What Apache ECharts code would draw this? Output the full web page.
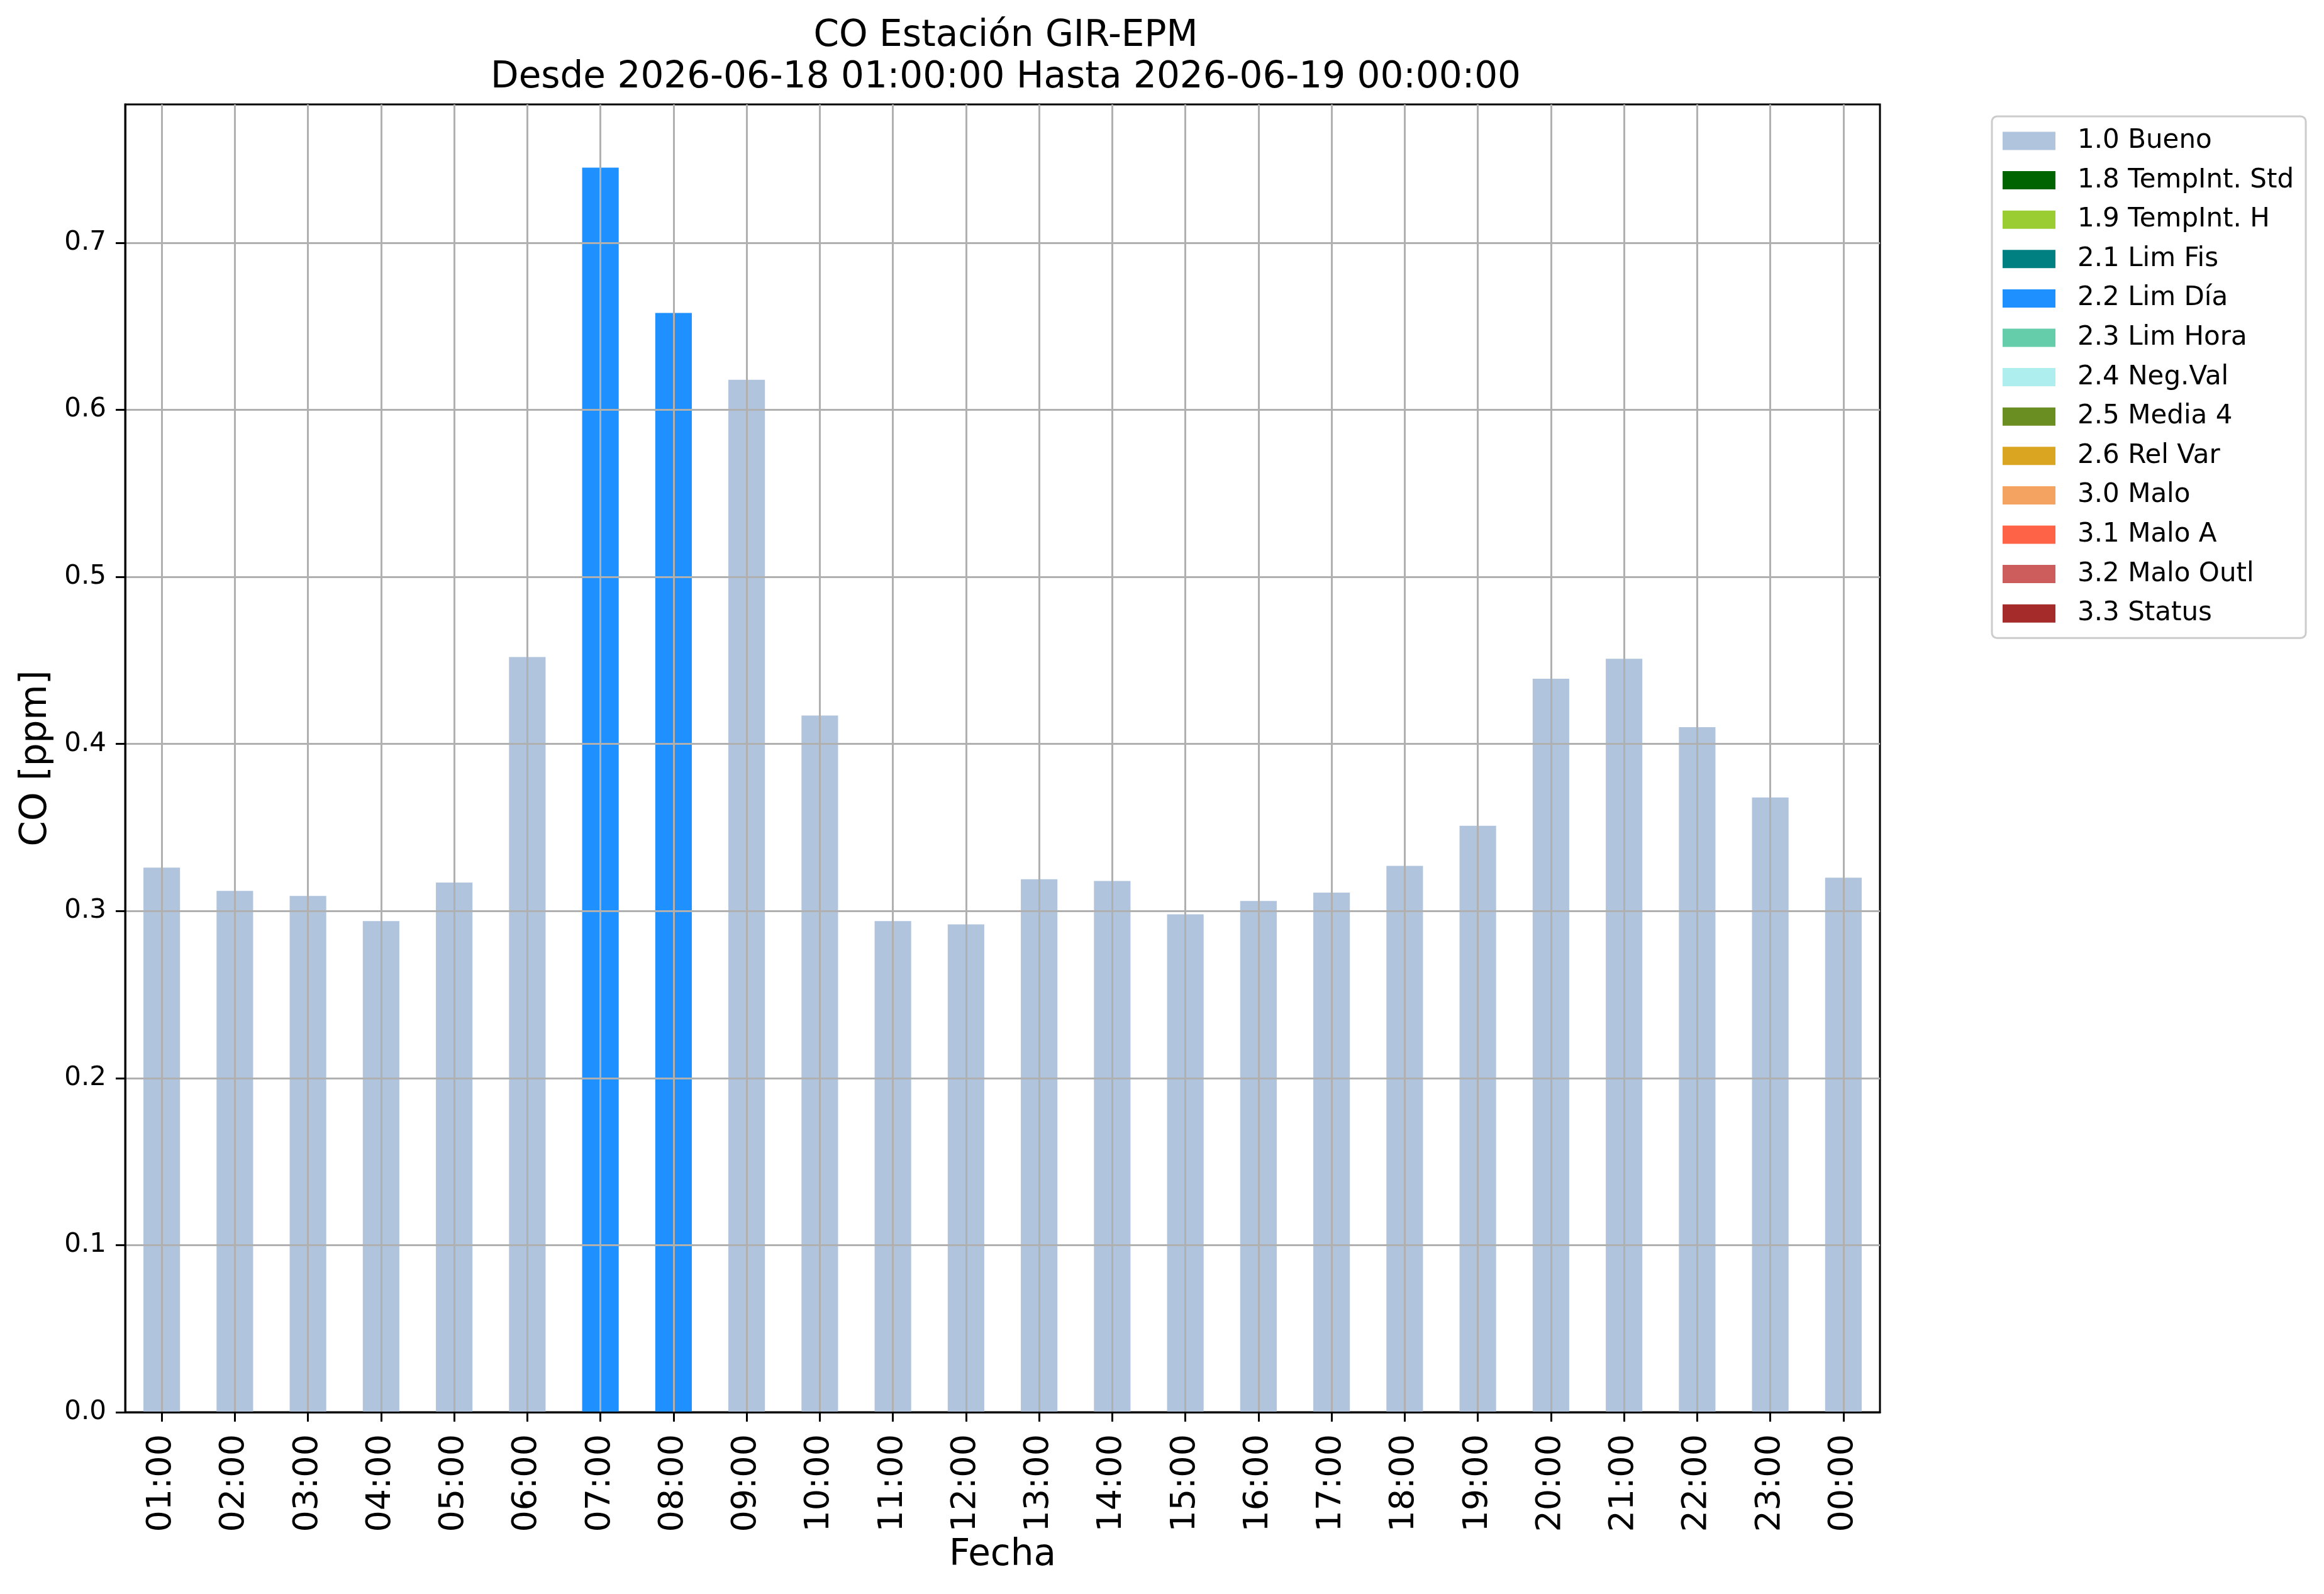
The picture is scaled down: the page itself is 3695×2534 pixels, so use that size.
<!DOCTYPE html>
<html>
<head>
<meta charset="utf-8">
<script src="https://cdn.jsdelivr.net/npm/echarts@6/dist/echarts.min.js"></script>
<style>
html,body{margin:0;padding:0;background:#fff;}
#chart{width:3695px;height:2534px;}
</style>
</head>
<body>
<div id="chart"></div>
<script>
const categories = ['01:00','02:00','03:00','04:00','05:00','06:00','07:00','08:00','09:00','10:00','11:00','12:00',
  '13:00','14:00','15:00','16:00','17:00','18:00','19:00','20:00','21:00','22:00','23:00','00:00'];
const values = [0.326,0.312,0.309,0.294,0.317,0.452,0.745,0.658,0.618,0.417,0.294,0.292,
  0.319,0.318,0.298,0.306,0.311,0.327,0.351,0.439,0.451,0.410,0.368,0.320];
const flags = ['1.0 Bueno','1.0 Bueno','1.0 Bueno','1.0 Bueno','1.0 Bueno','1.0 Bueno','2.2 Lim Día','2.2 Lim Día',
  '1.0 Bueno','1.0 Bueno','1.0 Bueno','1.0 Bueno','1.0 Bueno','1.0 Bueno','1.0 Bueno','1.0 Bueno','1.0 Bueno',
  '1.0 Bueno','1.0 Bueno','1.0 Bueno','1.0 Bueno','1.0 Bueno','1.0 Bueno','1.0 Bueno'];
const flagNames = ['1.0 Bueno','1.8 TempInt. Std','1.9 TempInt. H','2.1 Lim Fis','2.2 Lim Día','2.3 Lim Hora',
  '2.4 Neg.Val','2.5 Media 4','2.6 Rel Var','3.0 Malo','3.1 Malo A','3.2 Malo Outl','3.3 Status'];
const flagColors = ['#B0C4DE','#006400','#9ACD32','#008080','#1E90FF','#66CDAA','#AFEEEE','#6B8E23',
  '#DAA520','#F4A460','#FF6347','#CD5C5C','#A52A2A'];
const yTicks = [0,0.1,0.2,0.3,0.4,0.5,0.6,0.7];
const yMax = 0.7828;

const FONT = 'DejaVu Sans';
const chart = echarts.init(document.getElementById('chart'), null, {renderer:'canvas'});

const series = flagNames.map((name, i) => ({
  name: name,
  type: 'bar',
  stack: 'flag',
  barWidth: '50%',
  itemStyle: {color: flagColors[i]},
  data: values.map((v, k) => flags[k] === name ? v : null),
  z: 2
}));

chart.setOption({
  backgroundColor: '#ffffff',
  animation: false,
  title: {
    text: 'CO Estación GIR-EPM\nDesde 2026-06-18 01:00:00 Hasta 2026-06-19 00:00:00',
    left: 1594,
    top: 20,
    textAlign: 'center',
    textStyle: {fontFamily: FONT, fontSize: 58, fontWeight: 'normal', color: '#000', lineHeight: 66}
  },
  grid: {
    left: 199, right: 706, top: 166, bottom: 289,
    show: true, borderColor: '#000', borderWidth: 3, backgroundColor: '#fff',
    outerBoundsMode: 'none', containLabel: false
  },
  legend: {
    orient: 'vertical',
    left: 3167, top: 185,
    padding: [18, 19, 18, 17],
    borderColor: '#cccccc', borderWidth: 3, borderRadius: 8,
    backgroundColor: '#ffffff',
    itemGap: 20.6, itemWidth: 84, itemHeight: 29,
    icon: 'rect',
    data: flagNames,
    textStyle: {fontFamily: FONT, fontSize: 42, lineHeight: 42, color: '#000', padding: [0, 0, 0, 30]}
  },
  xAxis: {
    type: 'category',
    data: categories,
    z: 3,
    name: 'Fecha',
    nameLocation: 'middle',
    nameGap: 194,
    nameTextStyle: {fontFamily: FONT, fontSize: 58, color: '#000'},
    axisLine: {show: true, lineStyle: {color: '#000', width: 3}},
    axisTick: {show: true, alignWithLabel: true, interval: 0, length: 15, lineStyle: {color: '#000', width: 3}},
    axisLabel: {interval: 0, rotate: 90, margin: 35, fontFamily: FONT, fontSize: 54, color: '#000'},
    splitLine: {show: true, alignWithLabel: true, interval: 0, lineStyle: {color: '#b0b0b0', width: 3}}
  },
  yAxis: {
    type: 'value',
    min: 0, max: yMax, interval: 0.1,
    z: 3,
    name: 'CO [ppm]',
    nameLocation: 'middle',
    nameGap: 112,
    nameRotate: 90,
    nameTextStyle: {fontFamily: FONT, fontSize: 58, color: '#000'},
    axisLine: {show: true, lineStyle: {color: '#000', width: 3}},
    axisTick: {show: true, length: 15, customValues: yTicks, lineStyle: {color: '#000', width: 3}},
    axisLabel: {showMinLabel: true, showMaxLabel: true, margin: 30, fontFamily: FONT, fontSize: 42, color: '#000',
      customValues: yTicks, formatter: v => v.toFixed(1)},
    splitLine: {show: true, lineStyle: {color: '#b0b0b0', width: 3}}
  },
  series: series
});
</script>
</body>
</html>
